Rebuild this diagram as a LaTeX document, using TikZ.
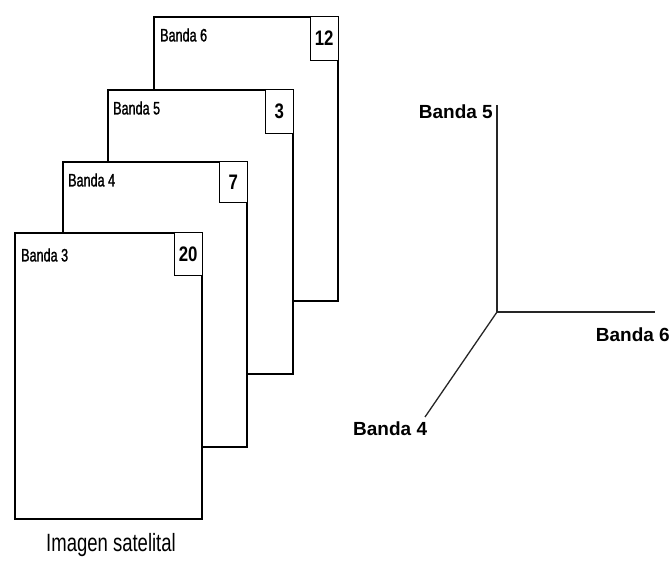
\documentclass[tikz,border=0pt]{standalone}
\usepackage{fontspec}
\setmainfont{Liberation Sans}
\newfontfamily\narrowfont[FakeStretch=0.7,FakeBold=1.2]{Liberation Sans}
\newfontfamily\captionfont[FakeStretch=0.74]{Liberation Sans}
\newfontfamily\narrowbold[FakeStretch=0.8]{Liberation Sans Bold}
\begin{document}
\begin{tikzpicture}[x=1pt,y=-1pt,
  sheet/.style={draw=black,fill=white,line width=1.8pt,anchor=north west,inner sep=0pt},
  numbox/.style={draw=black,fill=white,line width=1.2pt,anchor=north east,inner sep=0pt,
    minimum width=28pt,minimum height=44pt,font=\narrowbold\fontsize{21}{21}\selectfont},
  sheetlabel/.style={anchor=west,inner sep=0pt,font=\narrowfont\fontsize{18}{18}\selectfont},
  axis/.style={draw=black!85,line width=1.3pt},
  axislabel/.style={inner sep=0pt,font=\bfseries\fontsize{19}{19}\selectfont}]
\useasboundingbox (0,0) rectangle (672,561);
% sheets
\node[sheet,minimum width=184pt,minimum height=284pt] (s6) at (153,16) {};
\node[numbox] (n6) at (s6.north east) {12};
\node[sheetlabel] (l6) at (160,35) {Banda 6};
\node[sheet,minimum width=185pt,minimum height=284pt] (s5) at (107,89) {};
\node[numbox] (n5) at (s5.north east) {3};
\node[sheetlabel] (l5) at (113,108) {Banda 5};
\node[sheet,minimum width=184pt,minimum height=285pt] (s4) at (62,161) {};
\node[numbox,minimum height=41pt] (n4) at (s4.north east) {7};
\node[sheetlabel] (l4) at (68,180) {Banda 4};
\node[sheet,minimum width=187pt,minimum height=286pt] (s3) at (14,232) {};
\node[numbox,minimum height=43pt] (n3) at (s3.north east) {20};
\node[sheetlabel] (l3) at (21,255) {Banda 3};
\node[inner sep=0pt,font=\captionfont\fontsize{25}{25}\selectfont] (cap) at (111,545) {Imagen satelital};
% axes
\coordinate (o) at (497,312);
\coordinate (ey) at (497,105);
\coordinate (ex) at (655,312);
\coordinate (ez) at (425,417);
\draw[axis] (o) -- (ey);
\draw[axis] (o) -- (ex);
\draw[axis] (o) -- (ez);
\node[axislabel,anchor=east] (b5) at (493,112) {Banda 5};
\node[axislabel,anchor=east] (b6) at (670,335) {Banda 6};
\node[axislabel,anchor=west] (b4) at (353,429) {Banda 4};
\end{tikzpicture}
\end{document}
